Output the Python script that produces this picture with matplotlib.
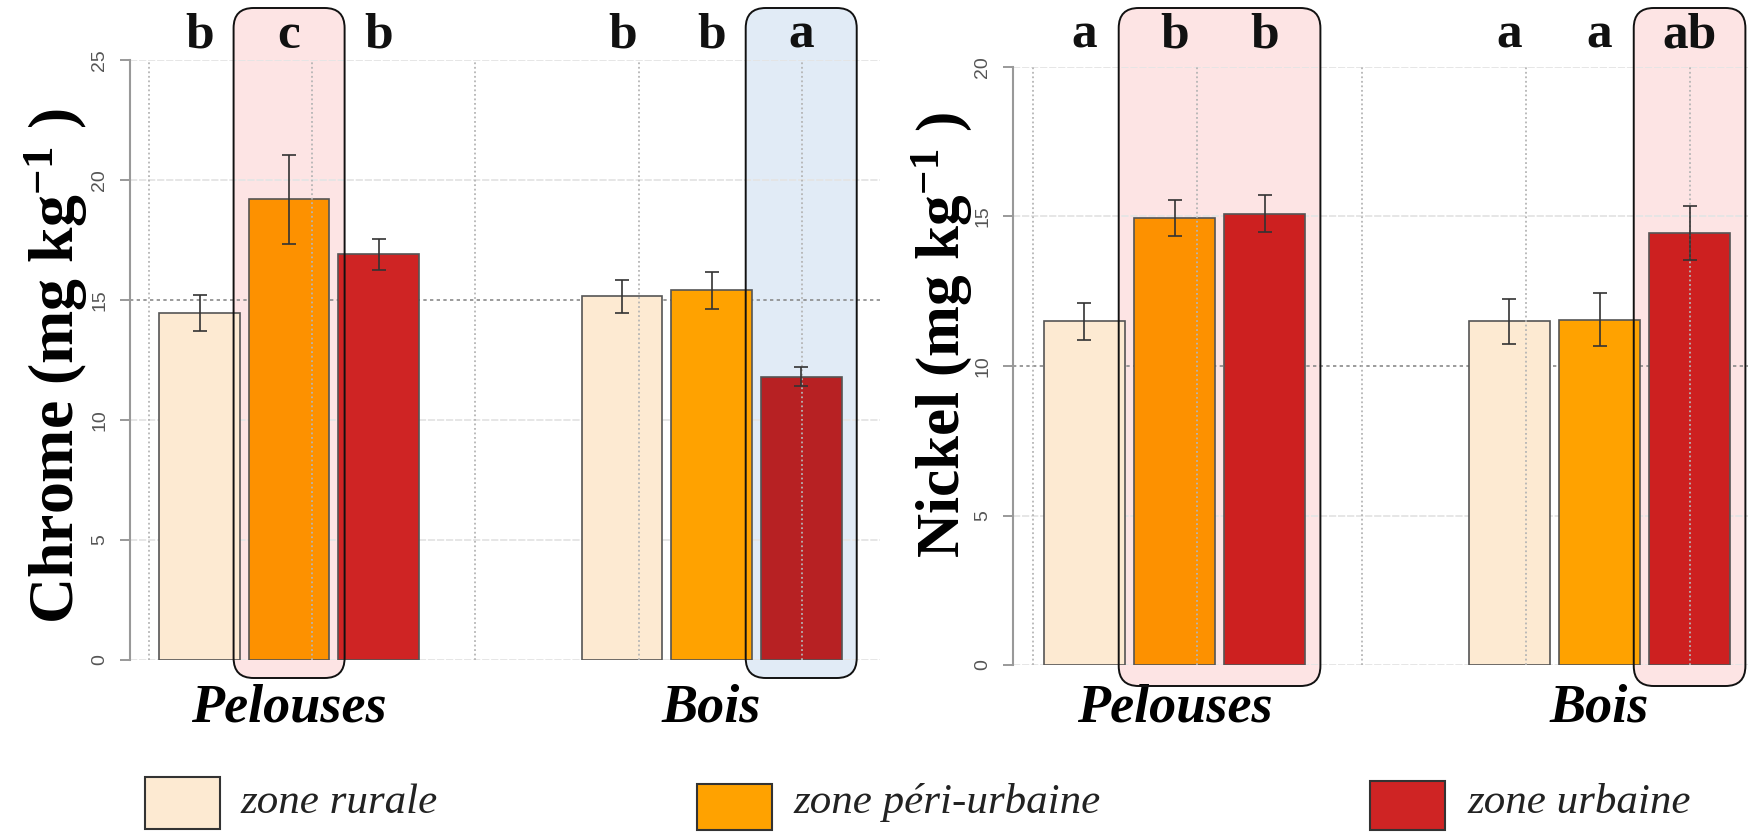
import matplotlib
matplotlib.use("Agg")
import matplotlib.pyplot as plt
import numpy as np
from matplotlib.colors import to_rgb
from matplotlib.patches import FancyBboxPatch, Rectangle
from matplotlib.transforms import IdentityTransform, blended_transform_factory

# données
groups = ["Pelouses", "Bois"]
zones = ["zone rurale", "zone péri-urbaine", "zone urbaine"]

chrome_mean = [[14.45, 19.2, 16.9], [15.15, 15.4, 11.8]]
chrome_err = [[0.75, 1.85, 0.65], [0.7, 0.78, 0.4]]
chrome_letters = [["b", "c", "b"], ["b", "b", "a"]]

nickel_mean = [[11.5, 14.95, 15.1], [11.5, 11.55, 14.45]]
nickel_err = [[0.62, 0.6, 0.63], [0.75, 0.88, 0.9]]
nickel_letters = [["a", "b", "b"], ["a", "a", "ab"]]

# (groupe, barres encadrées, couleur du cadre)
chrome_boxes = [(0, [1], "pink"), (1, [2], "blue")]
nickel_boxes = [(0, [1, 2], "pink"), (1, [2], "pink")]

zone_colors = ["#FDEAD2", "#FFA200", "#CF2424"]
box_colors = {"pink": "#FDE4E4", "blue": "#E1EBF6"}

W, H = 1749, 832
GROUP_STEP = 4.72
BAR_W = 0.9

plt.rcParams["mathtext.fontset"] = "custom"
plt.rcParams["mathtext.rm"] = "Liberation Serif:bold"
plt.rcParams["mathtext.default"] = "rm"

fig = plt.figure(figsize=(W / 100, H / 100), dpi=100)
fig.patch.set_facecolor("white")
ident = IdentityTransform()


def px_axes(x0, x1, ytop, ybot):
    # position de l'axe en pixels (y compté depuis le haut)
    return fig.add_axes([x0 / W, (H - ybot) / H, (x1 - x0) / W, (ybot - ytop) / H])


def multiply(c1, c2):
    a = np.array(to_rgb(c1))
    b = np.array(to_rgb(c2))
    return tuple(a * b)


def panel(ax, means, errs, letters, boxes, ymax, xlim, ref_line, ylabel, ylab_xy, ylab_size, box_bottom):
    ax.set_facecolor("none")
    ax.set_xlim(*xlim)
    ax.set_ylim(0, ymax)

    # grille
    for yv in range(0, ymax + 1, 5):
        if yv == ref_line:
            ax.axhline(yv, color="#8A8A8A", lw=1.2, ls=(0, (2, 2)), zorder=0.6)
        else:
            ax.axhline(yv, color="#E4E4E4", lw=1.3, ls=(0, (4, 1)), zorder=0.5)
    for xv in np.linspace(-0.57, 6.73, 5):
        ax.axvline(xv, color="#B5B5B5", lw=1.3, ls=(0, (1, 1.5)), zorder=3)

    in_box = {}
    for g, bars, col in boxes:
        for b in bars:
            in_box[(g, b)] = col

    blend = blended_transform_factory(ax.transData, ident)
    for g in range(len(groups)):
        xs = g * GROUP_STEP + np.arange(3)
        cols = []
        for i in range(3):
            c = zone_colors[i]
            if (g, i) in in_box:
                c = multiply(c, box_colors[in_box[(g, i)]])
            cols.append(c)
        ax.bar(xs, means[g], width=BAR_W, color=cols, edgecolor="#555555", linewidth=1.2, zorder=2)
        ax.errorbar(xs, means[g], yerr=errs[g], fmt="none", ecolor="#333333",
                    elinewidth=1.2, capsize=5, capthick=1.2, zorder=4)
        for i in range(3):
            ax.text(xs[i], H - 48, letters[g][i], transform=blend, ha="center", va="baseline",
                    fontsize=37, fontweight="bold", family="Liberation Serif", color="#111111", clip_on=False)
        ax.text(xs[1], H - 722, groups[g], transform=blend, ha="center", va="baseline",
                fontsize=39, fontweight="bold", fontstyle="italic", family="Liberation Serif", clip_on=False)

    # cadres arrondis (fond derrière, contour devant)
    for g, bars, col in boxes:
        x_left = g * GROUP_STEP + bars[0] - 0.62
        x_right = g * GROUP_STEP + bars[-1] + 0.62
        px0 = ax.transData.transform((x_left, 0))[0]
        px1 = min(ax.transData.transform((x_right, 0))[0], W - 1)
        y0 = H - box_bottom
        y1 = H - 8
        style = "round,pad=0,rounding_size=20"
        fig.add_artist(FancyBboxPatch((px0, y0), px1 - px0, y1 - y0, boxstyle=style,
                                      facecolor=box_colors[col], edgecolor="none",
                                      transform=ident, zorder=-1))
        fig.add_artist(FancyBboxPatch((px0, y0), px1 - px0, y1 - y0, boxstyle=style,
                                      facecolor="none", edgecolor="#111111", lw=1.4,
                                      transform=ident, zorder=5))

    for s in ["top", "right", "bottom"]:
        ax.spines[s].set_visible(False)
    ax.spines["left"].set_bounds(0, ymax)
    ax.spines["left"].set_color("#999999")
    ax.spines["left"].set_linewidth(1.5)
    ax.set_xticks([])
    ax.set_yticks(range(0, ymax + 1, 5))
    ax.tick_params(axis="y", length=7.5, width=1.2, color="#888888", pad=8,
                   labelsize=14, labelcolor="#555555", labelrotation=90)
    for lab in ax.get_yticklabels():
        lab.set_va("center")
        lab.set_family("Liberation Sans")

    fig.text(ylab_xy[0] / W, (H - ylab_xy[1]) / H, ylabel, rotation=90, ha="center", va="center",
             fontsize=ylab_size, fontweight="bold", family="Liberation Serif")


ax1 = px_axes(130, 880, 60, 660)
panel(ax1, chrome_mean, chrome_err, chrome_letters, chrome_boxes, 25, (-0.777, 7.60), 15,
      "Chrome (mg kg$^{-1}$ )", (56, 366), 46, 678)

ax2 = px_axes(1013, 1749, 67, 665)
panel(ax2, nickel_mean, nickel_err, nickel_letters, nickel_boxes, 20, (-0.794, 7.38), 10,
      "Nickel (mg kg$^{-1}$ )", (942, 335), 44, 686)

# légende en bas
leg_boxes = [(145, 777, 75, 52), (697, 784, 75, 46), (1370, 781, 75, 49)]
leg_text_x = [240, 793, 1467]
for i in range(3):
    x, ytop, w, h = leg_boxes[i]
    fig.add_artist(Rectangle((x, H - ytop - h), w, h, facecolor=zone_colors[i],
                             edgecolor="#333333", lw=1.5, transform=ident))
    fig.text(leg_text_x[i] / W, (H - 813) / H, zones[i], ha="left", va="baseline",
             fontsize=31, fontstyle="italic", family="Liberation Serif", color="#222222")

fig.savefig("out.png", dpi=100)
